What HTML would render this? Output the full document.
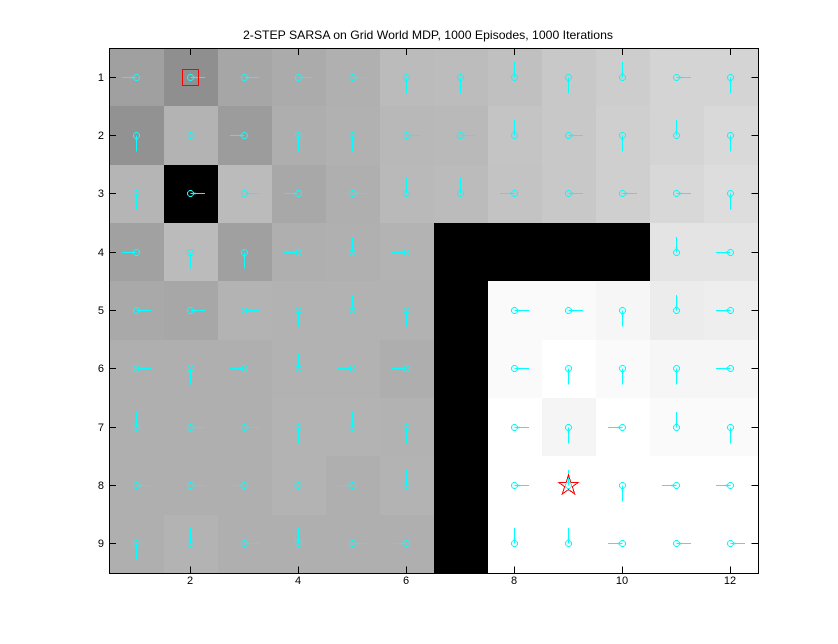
<!DOCTYPE html>
<html>
<head>
<meta charset="utf-8">
<title>2-STEP SARSA on Grid World MDP</title>
<style>
html,body{margin:0;padding:0;background:#fff;width:838px;height:644px;overflow:hidden}
svg{display:block}
text{font-family:"Liberation Sans",sans-serif;fill:#000}
</style>
</head>
<body>
<svg id="chart" width="838" height="644" viewBox="0 0 838 644" xmlns="http://www.w3.org/2000/svg">
<rect x="0" y="0" width="838" height="644" fill="#fff"/>
<g id="cells" shape-rendering="crispEdges"></g>
<g id="arrows"></g>
<g id="axes"></g>
<text x="428" y="39" font-size="12" text-anchor="middle" textLength="370" lengthAdjust="spacingAndGlyphs">2-STEP SARSA on Grid World MDP, 1000 Episodes, 1000 Iterations</text>
</svg>
<script>
const xTickLabels = [2, 4, 6, 8, 10, 12];
const yTickLabels = [1, 2, 3, 4, 5, 6, 7, 8, 9];
const stateValues = [
  [160,143,166,171,176,187,188,192,200,205,212,212],
  [146,179,156,174,177,184,185,196,200,207,212,217],
  [181,0,187,168,175,185,187,195,200,207,216,221],
  [161,187,160,175,176,179,0,0,0,0,228,228],
  [169,167,179,178,178,178,0,250,250,246,236,238],
  [175,175,175,178,178,174,0,250,255,250,246,246],
  [175,175,175,179,179,178,0,255,245,255,250,250],
  [175,175,175,179,175,179,0,255,255,255,255,255],
  [175,179,175,175,175,175,0,255,255,255,255,255]
];
const policyDirections = [
  ["L","R","R","R","R","D","D","U","D","U","R","D"],
  ["D","R","L","D","D","R","R","U","R","D","U","D"],
  ["D","R","R","L","R","U","U","L","R","R","R","D"],
  ["L","D","D","L","U","L","","","","","U","L"],
  ["R","R","R","D","U","D","","R","R","D","U","L"],
  ["R","D","L","U","L","L","","R","D","D","D","L"],
  ["U","R","R","D","U","D","","R","D","L","U","D"],
  ["R","R","L","L","L","U","","R","U","D","L","L"],
  ["D","U","R","U","R","L","","U","U","L","R","R"]
];
const arrowLength = [0.27];
const startState = [2, 1];
const goalState = [9, 8];

const NS = 'http://www.w3.org/2000/svg';
const AX = { left: 109.5, right: 758.5, top: 48.5, bottom: 573.5 };
const colCount = stateValues[0].length;
const rowCount = stateValues.length;
const unitX = 54;
const unitY = (AX.bottom - AX.top) / rowCount;
function xScale(c) { return AX.left + (c - 0.5) * unitX; }
function yScale(r) { return AX.top - 0.5 + (r - 0.5) * unitY; }
function mk(tag, attrs, parent) {
  const el = document.createElementNS(NS, tag);
  for (const k in attrs) el.setAttribute(k, attrs[k]);
  parent.appendChild(el);
  return el;
}

const cellsG = document.getElementById('cells');
stateValues.forEach(function (row, r) {
  row.forEach(function (v, c) {
    const x0 = c === 0 ? 109 : Math.round(xScale(c + 0.5));
    const x1 = c === colCount - 1 ? 758 : Math.round(xScale(c + 1.5));
    const y0 = Math.round(yScale(r + 0.5));
    const y1 = r === rowCount - 1 ? 573 : Math.round(yScale(r + 1.5));
    const cell = mk('rect', { x: x0, y: y0, width: x1 - x0, height: y1 - y0, fill: 'rgb(' + v + ',' + v + ',' + v + ')' }, cellsG);
    
    
  });
});

const arrowsG = document.getElementById('arrows');
const vectors = { L: [-1, 0], R: [1, 0], U: [0, -1], D: [0, 1] };
policyDirections.forEach(function (row, r) {
  row.forEach(function (d, c) {
    if (!d) return;
    const cx = Math.floor(xScale(c + 1)) + 0.5;
    const cy = Math.floor(yScale(r + 1)) + 0.5;
    const v = vectors[d];
    const ex = cx + v[0] * arrowLength[0] * unitX;
    const ey = cy + v[1] * arrowLength[0] * unitY;
    const g = mk('g', {}, arrowsG);
    
    
    mk('line', { x1: ex, y1: ey, x2: cx, y2: cy, stroke: '#00ffff', 'stroke-width': 1, 'shape-rendering': 'crispEdges' }, g);
    mk('polygon', {
      points: cx + ',' + cy + ' ' +
        (cx + v[0] * 5 + v[1] * 1) + ',' + (cy + v[1] * 5 + v[0] * 1) + ' ' +
        (cx + v[0] * 5 - v[1] * 1) + ',' + (cy + v[1] * 5 - v[0] * 1),
      fill: '#00ffff'
    }, g);
    mk('circle', { cx: cx, cy: cy, r: 3, fill: 'none', stroke: '#00ffff', 'stroke-width': 1, 'shape-rendering': 'crispEdges' }, g);
  });
});

const axesG = document.getElementById('axes');
const startMarker = mk('rect', {
  x: Math.floor(xScale(startState[0])) - 7.5, y: Math.floor(yScale(startState[1])) - 7.5,
  width: 16, height: 16, fill: 'none', stroke: '#ff0000', 'stroke-width': 1, 'shape-rendering': 'crispEdges'
}, axesG);



const starPts = [];
for (let i = 0; i < 10; i++) {
  const R = i % 2 === 0 ? 10.5 : 4;
  const a = -Math.PI / 2 + i * Math.PI / 5;
  starPts.push((xScale(goalState[0]) + R * Math.cos(a)).toFixed(2) + ',' + (yScale(goalState[1]) + R * Math.sin(a)).toFixed(2));
}
const goalMarker = mk('polygon', { points: starPts.join(' '), fill: 'none', stroke: '#ff0000', 'stroke-width': 1, 'shape-rendering': 'crispEdges' }, axesG);



const frame = mk('rect', {
  x: AX.left, y: AX.top, width: AX.right - AX.left, height: AX.bottom - AX.top,
  fill: 'none', stroke: '#000', 'stroke-width': 1, 'shape-rendering': 'crispEdges'
}, axesG);



xTickLabels.forEach(function (t) {
  const x = Math.floor(xScale(t)) + 0.5;
  const g = mk('g', { stroke: '#000', 'stroke-width': 1, 'shape-rendering': 'crispEdges' }, axesG);
  
  
  mk('line', { x1: x, y1: AX.top, x2: x, y2: AX.top + 6.5 }, g);
  mk('line', { x1: x, y1: AX.bottom, x2: x, y2: AX.bottom - 7 }, g);
  const label = mk('text', { x: x - 0.5, y: 584, 'font-size': 11, 'text-anchor': 'middle' }, axesG);
  
  
  label.textContent = t;
});

yTickLabels.forEach(function (t) {
  const y = Math.floor(yScale(t)) + 0.5;
  const g = mk('g', { stroke: '#000', 'stroke-width': 1, 'shape-rendering': 'crispEdges' }, axesG);
  
  
  mk('line', { x1: AX.left, y1: y, x2: AX.left + 6.5, y2: y }, g);
  mk('line', { x1: AX.right, y1: y, x2: AX.right - 7, y2: y }, g);
  const label = mk('text', { x: 104, y: y + 3.5, 'font-size': 11, 'text-anchor': 'end' }, axesG);
  
  
  label.textContent = t;
});
</script>
</body>
</html>
